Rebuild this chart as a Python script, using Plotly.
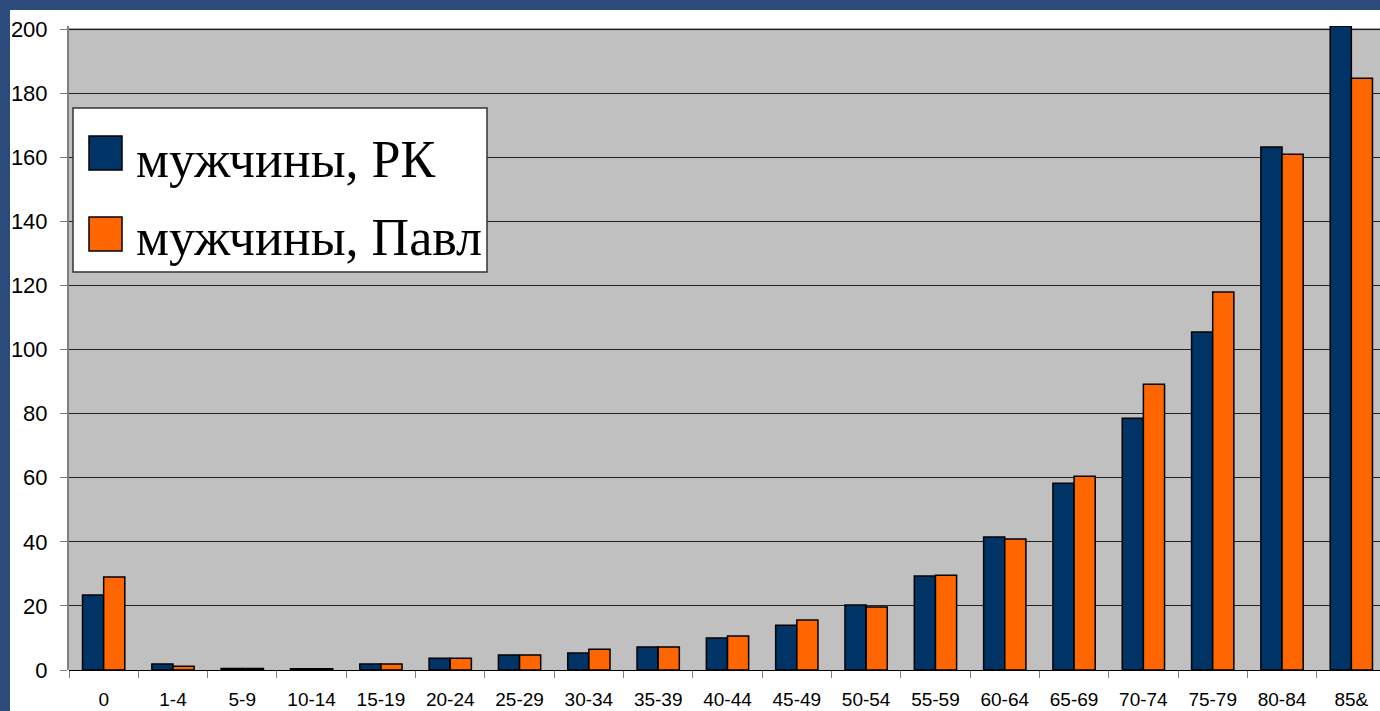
import plotly.graph_objects as go

# Age groups and mortality values (men)
age_groups = ['0', '1-4', '5-9', '10-14', '15-19', '20-24', '25-29', '30-34', '35-39',
              '40-44', '45-49', '50-54', '55-59', '60-64', '65-69', '70-74', '75-79',
              '80-84', '85&']
men_rk = [23.4, 1.9, 0.5, 0.4, 1.9, 3.7, 4.7, 5.3, 7.2,
          10.0, 14.0, 20.3, 29.3, 41.5, 58.3, 78.6, 105.5, 163.2, 201.0]
men_pavl = [29.0, 1.2, 0.5, 0.4, 1.9, 3.7, 4.7, 6.5, 7.2,
            10.6, 15.6, 19.7, 29.6, 40.9, 60.5, 89.2, 118.0, 161.0, 184.7]
series_names = ['мужчины, РК', 'мужчины, Павл']
series_colors = ['#003366', '#ff6600']

# figure is a little wider than the window: the original chart is cut off on the right
W, H = 1386, 711
L, R, T, B = 69, 0, 26, 41
PW, PH = W - L - R, H - T - B


def px_x(x):
    return (x - L) / PW


def px_y(y):
    return (H - B - y) / PH


fig = go.Figure()
for name, vals, col in zip(series_names, [men_rk, men_pavl], series_colors):
    fig.add_trace(go.Bar(x=age_groups, y=vals, name=name, marker_color=col,
                         marker_line=dict(color='black', width=1.5),
                         showlegend=False))

fig.update_layout(
    width=W, height=H,
    margin=dict(l=L, r=R, t=T, b=B),
    paper_bgcolor='white', plot_bgcolor='#c0c0c0',
    barmode='group', bargap=0.39, bargroupgap=0,
    font=dict(family='Liberation Sans, Arial', color='black'),
)
# range goes slightly above 200 so the tallest bar pokes out, as in the original
fig.update_yaxes(range=[0, 201], tickvals=list(range(0, 201, 20)),
                 gridcolor='#222222', gridwidth=1,
                 zeroline=True, zerolinecolor='black', zerolinewidth=1,
                 showline=True, linecolor='#808080', linewidth=2,
                 ticks='outside', ticklen=7, tickcolor='#808080',
                 tickfont=dict(size=22), ticklabelstandoff=8)
fig.update_xaxes(tickson='boundaries', ticks='outside', ticklen=7, tickcolor='#808080',
                 tickfont=dict(size=19), showgrid=False, ticklabelstandoff=16)

shapes = [
    # white strip above the 200 line
    dict(type='rect', xref='paper', yref='y', x0=0, x1=1, y0=200, y1=201,
         fillcolor='white', line_width=0, layer='below'),
    # top border of plot area
    dict(type='line', xref='paper', yref='y', x0=0, x1=1, y0=200, y1=200,
         line=dict(color='#808080', width=2), layer='below'),
    # dark blue frame strips (left and top)
    dict(type='rect', xref='paper', yref='paper', x0=px_x(0), x1=px_x(10),
         y0=px_y(H), y1=px_y(0), fillcolor='#2c4a7a', line_width=0),
    dict(type='rect', xref='paper', yref='paper', x0=px_x(0), x1=px_x(W),
         y0=px_y(10), y1=px_y(0), fillcolor='#2c4a7a', line_width=0),
    # legend box
    dict(type='rect', xref='paper', yref='paper', x0=px_x(73), x1=px_x(487),
         y0=px_y(272), y1=px_y(108), fillcolor='white', line=dict(color='#333333', width=1.5)),
]
annotations = []
for i, (name, col) in enumerate(zip(series_names, series_colors)):
    top = 136 + i * 81
    shapes.append(dict(type='rect', xref='paper', yref='paper', x0=px_x(89), x1=px_x(122),
                       y0=px_y(top + 34), y1=px_y(top), fillcolor=col,
                       line=dict(color='black', width=1.5)))
    annotations.append(dict(text=name, xref='paper', yref='paper', x=px_x(134),
                            y=px_y(159 + i * 78), xanchor='left', yanchor='middle',
                            showarrow=False,
                            font=dict(family='Liberation Serif, Times New Roman', size=52,
                                      color='black')))
fig.update_layout(shapes=shapes, annotations=annotations)

fig.write_html('out.html', config={'displayModeBar': False},
               post_script="document.body.style.margin='0';"
                           "document.body.style.overflow='hidden';")
